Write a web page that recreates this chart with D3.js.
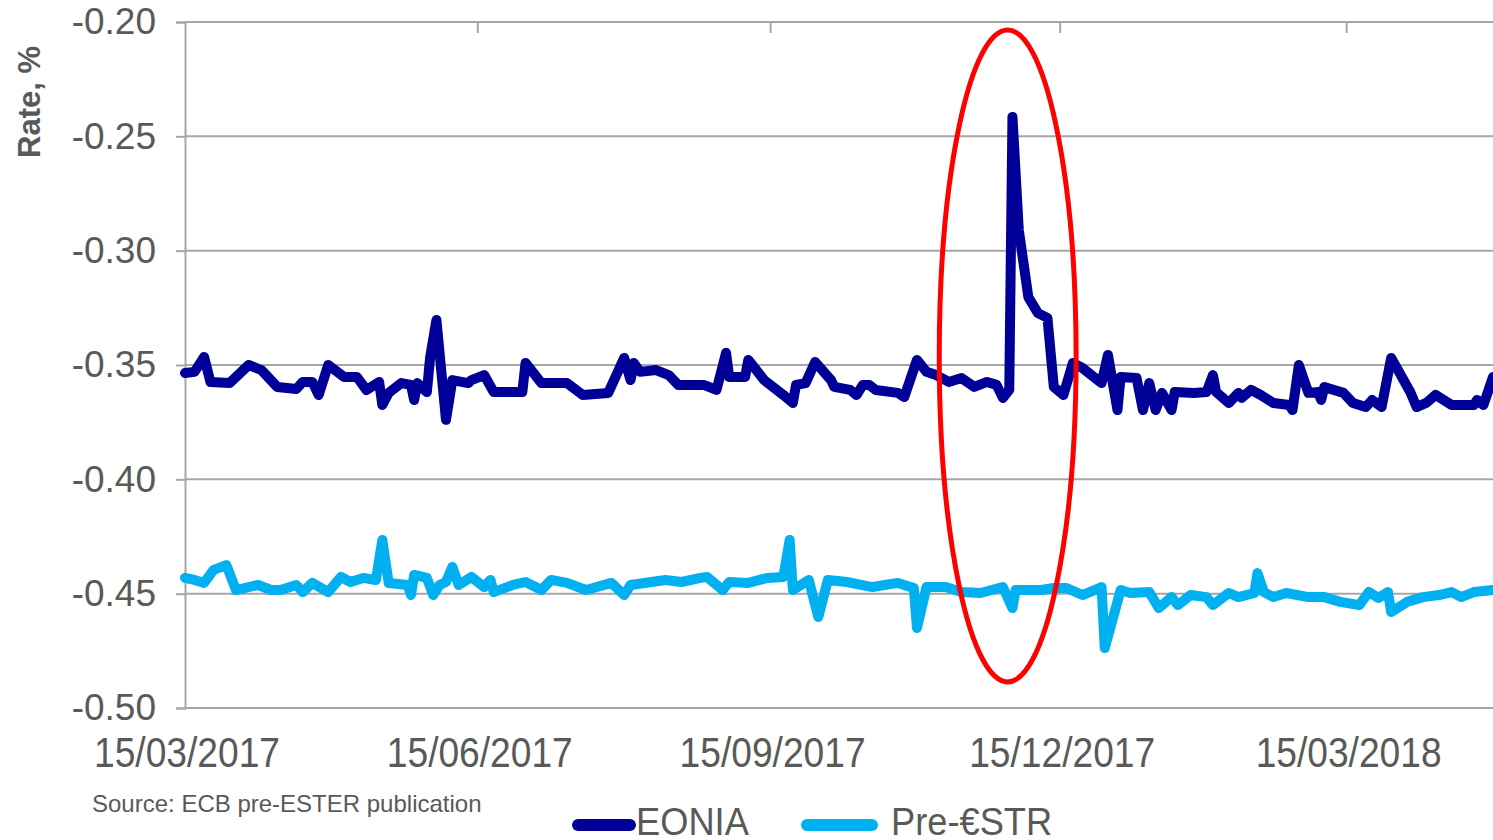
<!DOCTYPE html>
<html>
<head>
<meta charset="utf-8">
<script src="https://cdn.jsdelivr.net/npm/d3@7"></script>
<style>
  html, body { margin: 0; padding: 0; background: #fff; overflow: hidden; }
  svg { display: block; }
  text { font-family: "Liberation Sans", Arial, sans-serif; fill: #595959; }
</style>
</head>
<body>
<svg id="chart" width="1493" height="840"></svg>
<script>
// ---------- DATA ----------
const yTicks = [-0.20, -0.25, -0.30, -0.35, -0.40, -0.45, -0.50];
const xTickLabels = ["15/03/2017", "15/06/2017", "15/09/2017", "15/12/2017", "15/03/2018"];
const seriesNames = ["EONIA", "Pre-€STR"];

const eoniaDates = ["2017-03-15","2017-03-18","2017-03-21","2017-03-23","2017-03-29","2017-04-04","2017-04-08","2017-04-13","2017-04-19","2017-04-21","2017-04-24","2017-04-26","2017-04-29","2017-05-04","2017-05-08","2017-05-11","2017-05-15","2017-05-16","2017-05-18","2017-05-22","2017-05-25","2017-05-26","2017-05-27","2017-05-30","2017-05-31","2017-06-02","2017-06-05","2017-06-07","2017-06-12","2017-06-13","2017-06-17","2017-06-20","2017-06-29","2017-06-30","2017-07-05","2017-07-13","2017-07-18","2017-07-26","2017-07-31","2017-08-02","2017-08-03","2017-08-05","2017-08-10","2017-08-14","2017-08-17","2017-08-25","2017-08-29","2017-09-01","2017-09-02","2017-09-07","2017-09-08","2017-09-13","2017-09-19","2017-09-22","2017-09-23","2017-09-26","2017-09-29","2017-10-04","2017-10-05","2017-10-10","2017-10-12","2017-10-14","2017-10-16","2017-10-18","2017-10-25","2017-10-27","2017-10-31","2017-11-03","2017-11-06","2017-11-10","2017-11-14","2017-11-18","2017-11-22","2017-11-25","2017-11-27","2017-11-29","2017-11-30","2017-12-02","2017-12-05","2017-12-08","2017-12-11","2017-12-13","2017-12-16","2017-12-19","2017-12-22","2017-12-28","2017-12-30","2018-01-02","2018-01-03","2018-01-08","2018-01-10","2018-01-12","2018-01-14","2018-01-16","2018-01-19","2018-01-20","2018-01-26","2018-01-30","2018-02-01","2018-02-02","2018-02-06","2018-02-09","2018-02-10","2018-02-13","2018-02-16","2018-02-20","2018-02-25","2018-02-26","2018-02-28","2018-03-03","2018-03-06","2018-03-07","2018-03-08","2018-03-14","2018-03-17","2018-03-21","2018-03-23","2018-03-26","2018-03-29","2018-04-04","2018-04-06","2018-04-09","2018-04-12","2018-04-17","2018-04-24","2018-04-25","2018-04-27","2018-04-30"];
const eoniaValues = [-0.3535,-0.353,-0.3465,-0.3574,-0.3579,-0.350,-0.3522,-0.3596,-0.3605,-0.3574,-0.3574,-0.3631,-0.350,-0.3552,-0.3552,-0.3609,-0.3574,-0.3675,-0.3622,-0.3579,-0.3587,-0.3653,-0.3579,-0.3618,-0.3469,-0.3303,-0.374,-0.3566,-0.3579,-0.3566,-0.3544,-0.3618,-0.3618,-0.3491,-0.3579,-0.3579,-0.3631,-0.3622,-0.3469,-0.3566,-0.3491,-0.353,-0.3522,-0.3544,-0.3587,-0.3587,-0.3609,-0.3447,-0.3552,-0.3552,-0.3478,-0.3566,-0.3631,-0.3666,-0.3587,-0.3579,-0.3487,-0.3566,-0.3596,-0.3609,-0.3631,-0.3587,-0.3587,-0.3609,-0.3622,-0.364,-0.3478,-0.353,-0.3544,-0.3574,-0.3557,-0.3596,-0.3574,-0.3587,-0.3644,-0.3609,-0.2415,-0.291,-0.3203,-0.3273,-0.3294,-0.3596,-0.3631,-0.3491,-0.3513,-0.3579,-0.3456,-0.3697,-0.3552,-0.3557,-0.3697,-0.3579,-0.3697,-0.3622,-0.3697,-0.3618,-0.3622,-0.3618,-0.3544,-0.3618,-0.3666,-0.3622,-0.3644,-0.3609,-0.3631,-0.3666,-0.3675,-0.3697,-0.350,-0.3622,-0.3618,-0.3653,-0.3596,-0.3622,-0.3666,-0.3684,-0.3653,-0.3684,-0.3469,-0.3618,-0.3684,-0.3666,-0.3631,-0.3675,-0.3675,-0.3653,-0.3675,-0.3552];

const estrDates = ["2017-03-15","2017-03-18","2017-03-21","2017-03-24","2017-03-28","2017-03-31","2017-04-07","2017-04-11","2017-04-14","2017-04-19","2017-04-21","2017-04-24","2017-04-29","2017-05-03","2017-05-06","2017-05-10","2017-05-14","2017-05-16","2017-05-18","2017-05-24","2017-05-25","2017-05-26","2017-05-30","2017-06-01","2017-06-03","2017-06-05","2017-06-07","2017-06-09","2017-06-13","2017-06-17","2017-06-19","2017-06-20","2017-06-26","2017-06-30","2017-07-05","2017-07-08","2017-07-13","2017-07-19","2017-07-27","2017-07-31","2017-08-02","2017-08-13","2017-08-18","2017-08-24","2017-08-26","2017-08-31","2017-09-02","2017-09-08","2017-09-14","2017-09-19","2017-09-21","2017-09-22","2017-09-27","2017-09-30","2017-10-03","2017-10-09","2017-10-17","2017-10-25","2017-10-30","2017-10-31","2017-11-03","2017-11-09","2017-11-14","2017-11-20","2017-11-27","2017-11-30","2017-12-01","2017-12-09","2017-12-13","2017-12-17","2017-12-22","2017-12-28","2017-12-29","2018-01-03","2018-01-06","2018-01-12","2018-01-15","2018-01-19","2018-01-21","2018-01-25","2018-01-30","2018-02-01","2018-02-06","2018-02-09","2018-02-14","2018-02-15","2018-02-17","2018-02-20","2018-02-24","2018-03-03","2018-03-08","2018-03-13","2018-03-19","2018-03-22","2018-03-25","2018-03-28","2018-03-29","2018-04-03","2018-04-08","2018-04-13","2018-04-17","2018-04-20","2018-04-24","2018-04-30"];
const estrValues = [-0.4431,-0.444,-0.4453,-0.4396,-0.4375,-0.4484,-0.4462,-0.4484,-0.4484,-0.4462,-0.4493,-0.4453,-0.4493,-0.4427,-0.4449,-0.4431,-0.444,-0.4265,-0.4453,-0.4462,-0.4506,-0.4418,-0.4431,-0.4506,-0.4462,-0.4449,-0.4383,-0.4462,-0.4427,-0.4471,-0.444,-0.4493,-0.4462,-0.4449,-0.4484,-0.444,-0.4453,-0.4484,-0.4453,-0.4506,-0.4462,-0.444,-0.4449,-0.4431,-0.4427,-0.4484,-0.4449,-0.4453,-0.4431,-0.4427,-0.4265,-0.4484,-0.444,-0.4602,-0.444,-0.4449,-0.4471,-0.4453,-0.4475,-0.465,-0.4471,-0.4471,-0.4493,-0.4497,-0.4471,-0.4563,-0.4484,-0.4484,-0.4475,-0.4475,-0.4506,-0.4471,-0.4738,-0.4484,-0.4497,-0.4493,-0.4563,-0.4515,-0.455,-0.4506,-0.4515,-0.455,-0.4497,-0.4515,-0.4497,-0.441,-0.4493,-0.4515,-0.4497,-0.4515,-0.4515,-0.4536,-0.455,-0.4493,-0.4519,-0.4493,-0.458,-0.4536,-0.4515,-0.4506,-0.4493,-0.4515,-0.4493,-0.4484];

// highlighted period (red ellipse) : date range and value range
const highlightDates = ["2017-11-07", "2017-12-20"];
const highlightValues = [-0.2035, -0.4886];

// ---------- CHART ----------
const parse = d3.timeParse("%Y-%m-%d");
const fmt = d3.timeFormat("%d/%m/%Y");
const svg = d3.select("#chart");

const pLeft = 185, pRight = 1493, pTop = 22, pBottom = 708;
const x = d3.scaleTime().domain([parse("2017-03-15"), parse("2018-04-30")]).range([pLeft, pRight]);
const y = d3.scaleLinear().domain([-0.50, -0.20]).range([pBottom, pTop]);

const gridColor = "#a6a6a6";

// horizontal gridlines
svg.append("g").selectAll("line").data(yTicks).join("line")
  .attr("x1", pLeft).attr("x2", pRight)
  .attr("y1", d => y(d)).attr("y2", d => y(d))
  .attr("stroke", gridColor).attr("stroke-width", 2);

// y axis
const yAxis = d3.axisLeft(y).tickValues(yTicks).tickSize(9).tickPadding(20)
  .tickFormat(d => d.toFixed(2));
const gy = svg.append("g").attr("transform", `translate(${pLeft},0)`).call(yAxis);
gy.select(".domain").attr("stroke", gridColor).attr("stroke-width", 2);
gy.selectAll(".tick line").attr("stroke", gridColor).attr("stroke-width", 2);
gy.selectAll(".tick text").style("font-size", "37px").attr("fill", "#595959")
  .style("font-family", '"Liberation Sans", Arial, sans-serif');

// x tick positions (dates)
const xTickDates = xTickLabels.map(s => d3.timeParse("%d/%m/%Y")(s));
// small tick marks on top gridline
svg.append("g").selectAll("line").data(xTickDates.slice(1)).join("line")
  .attr("x1", d => x(d)).attr("x2", d => x(d))
  .attr("y1", pTop).attr("y2", pTop + 11)
  .attr("stroke", gridColor).attr("stroke-width", 2);

// x labels
svg.append("g").selectAll("text").data(xTickDates).join("text")
  .attr("transform", d => `translate(${x(d) + 2},767) scale(0.885,1)`)
  .attr("text-anchor", "middle")
  .style("font-size", "42px")
  .text(d => fmt(d));

// lines
const line = d3.line().x(d => x(d[0])).y(d => y(d[1]));
const eonia = eoniaDates.map((d, i) => [parse(d), eoniaValues[i]]);
const estr = estrDates.map((d, i) => [parse(d), estrValues[i]]);

svg.append("path").datum(estr).attr("d", line)
  .attr("fill", "none").attr("stroke", "#00b0f0").attr("stroke-width", 10)
  .attr("stroke-linejoin", "round").attr("stroke-linecap", "round");
svg.append("path").datum(eonia).attr("d", line)
  .attr("fill", "none").attr("stroke", "#000099").attr("stroke-width", 10)
  .attr("stroke-linejoin", "round").attr("stroke-linecap", "round");

// red ellipse
const hx0 = x(parse(highlightDates[0])), hx1 = x(parse(highlightDates[1]));
const hy0 = y(highlightValues[0]), hy1 = y(highlightValues[1]);
svg.append("ellipse")
  .attr("cx", (hx0 + hx1) / 2).attr("cy", (hy0 + hy1) / 2)
  .attr("rx", (hx1 - hx0) / 2).attr("ry", (hy1 - hy0) / 2)
  .attr("fill", "none").attr("stroke", "#ff0000").attr("stroke-width", 5);

// y title
svg.append("text")
  .attr("transform", "translate(40,102) rotate(-90)")
  .attr("text-anchor", "middle")
  .style("font-size", "31px").style("font-weight", "bold")
  .text("Rate, %");

// source
svg.append("text")
  .attr("transform", "translate(92,812)")
  .style("font-size", "24px")
  .text("Source: ECB pre-ESTER publication");

// legend
const legend = [
  { name: seriesNames[0], color: "#000099", x1: 578, x2: 630, tx: 636 },
  { name: seriesNames[1], color: "#00b0f0", x1: 807, x2: 872, tx: 891 }
];
const lg = svg.append("g");
legend.forEach(l => {
  lg.append("line").attr("x1", l.x1).attr("x2", l.x2).attr("y1", 825).attr("y2", 825)
    .attr("stroke", l.color).attr("stroke-width", 12).attr("stroke-linecap", "round");
  lg.append("text")
    .attr("transform", `translate(${l.tx},835) scale(0.93,1)`)
    .style("font-size", "39px")
    .text(l.name);
});
</script>
</body>
</html>
